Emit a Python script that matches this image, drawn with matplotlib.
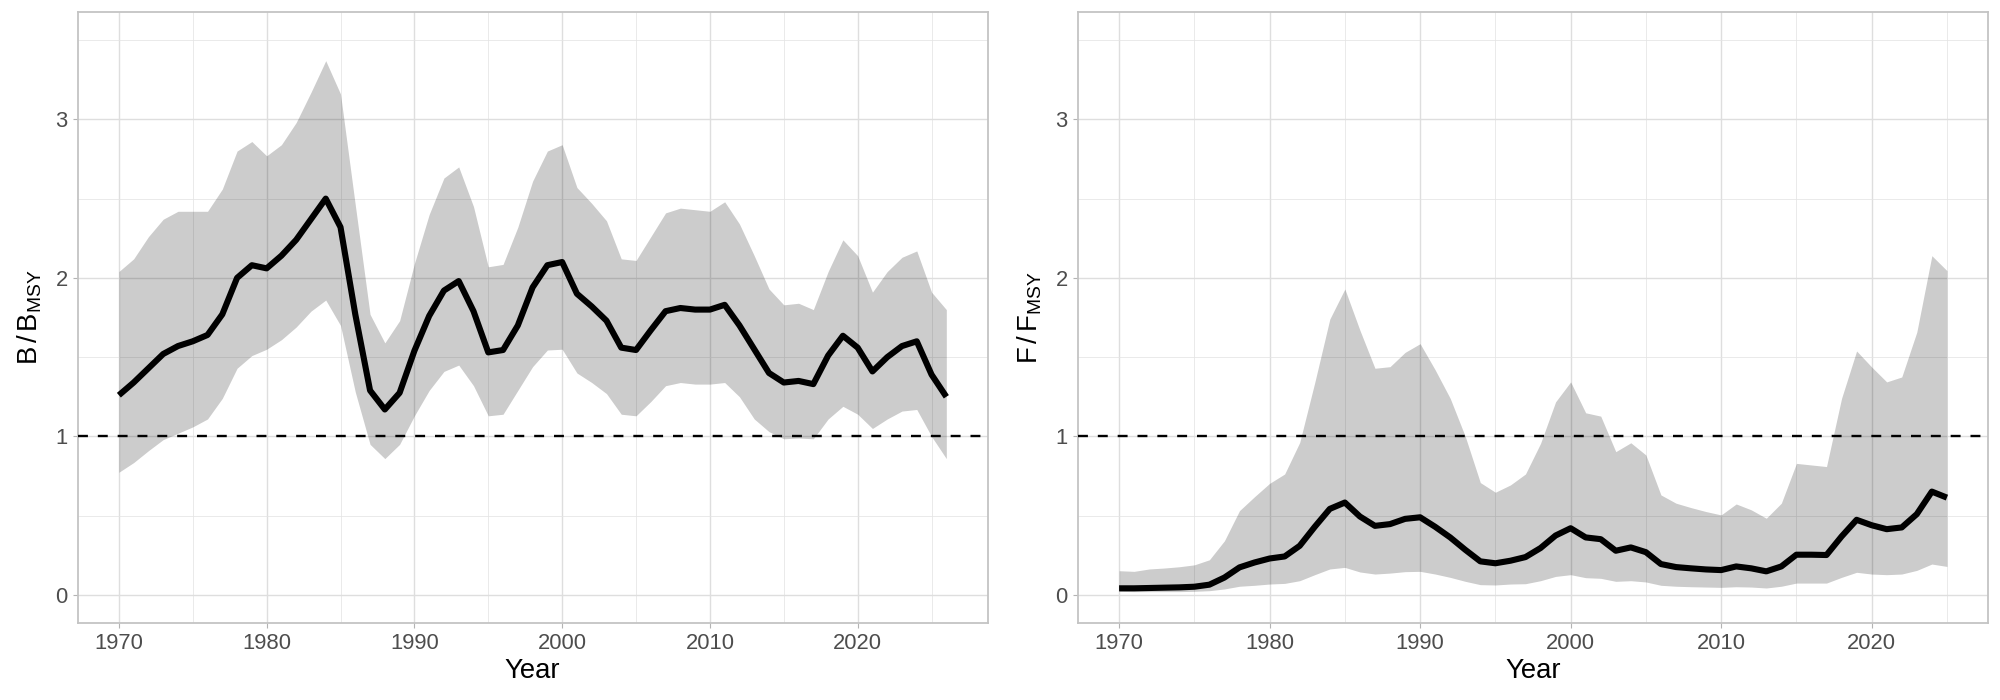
import numpy as np
import matplotlib
matplotlib.use("Agg")
import matplotlib.pyplot as plt

plt.rcParams['font.family'] = ['Liberation Sans', 'DejaVu Sans']
plt.rcParams['mathtext.fontset'] = 'custom'
plt.rcParams['mathtext.rm'] = 'Liberation Sans'
plt.rcParams['mathtext.it'] = 'Liberation Sans'

# ---- data ----
years_b = np.arange(1970, 2027)
b_med = [1.26, 1.34, 1.43, 1.52, 1.57, 1.60, 1.64, 1.77, 2.00, 2.08,
         2.06, 2.14, 2.24, 2.37, 2.50, 2.32, 1.77, 1.29, 1.17, 1.275,
         1.54, 1.76, 1.92, 1.98, 1.79, 1.53, 1.545, 1.70, 1.94, 2.08,
         2.10, 1.90, 1.82, 1.73, 1.56, 1.545, 1.67, 1.79, 1.81, 1.80,
         1.80, 1.83, 1.70, 1.55, 1.40, 1.34, 1.35, 1.33, 1.51, 1.635,
         1.56, 1.41, 1.50, 1.57, 1.60, 1.39, 1.25]
b_hi = [2.04, 2.12, 2.26, 2.37, 2.42, 2.42, 2.42, 2.56, 2.80, 2.86,
        2.77, 2.84, 2.98, 3.17, 3.37, 3.16, 2.46, 1.77, 1.59, 1.73,
        2.09, 2.40, 2.63, 2.70, 2.45, 2.07, 2.085, 2.32, 2.61, 2.80,
        2.84, 2.57, 2.47, 2.36, 2.12, 2.11, 2.26, 2.41, 2.44, 2.43,
        2.42, 2.48, 2.34, 2.14, 1.93, 1.83, 1.84, 1.80, 2.04, 2.24,
        2.14, 1.91, 2.04, 2.13, 2.17, 1.91, 1.80]
b_lo = [0.774, 0.835, 0.91, 0.98, 1.02, 1.06, 1.11, 1.24, 1.43, 1.51,
        1.55, 1.61, 1.69, 1.79, 1.86, 1.70, 1.28, 0.95, 0.86, 0.95,
        1.13, 1.29, 1.41, 1.45, 1.32, 1.13, 1.14, 1.29, 1.44, 1.545,
        1.55, 1.40, 1.34, 1.27, 1.14, 1.13, 1.22, 1.32, 1.34, 1.33,
        1.33, 1.34, 1.25, 1.11, 1.03, 0.985, 0.99, 0.985, 1.11, 1.19,
        1.14, 1.05, 1.11, 1.16, 1.17, 1.00, 0.86]

years_f = np.arange(1970, 2026)
f_med = [0.042, 0.042, 0.044, 0.046, 0.048, 0.052, 0.065, 0.11, 0.174, 0.205,
         0.23, 0.243, 0.31, 0.43, 0.543, 0.583, 0.495, 0.436, 0.447, 0.48,
         0.49, 0.43, 0.363, 0.285, 0.212, 0.20, 0.216, 0.239, 0.296, 0.375,
         0.421, 0.363, 0.352, 0.279, 0.30, 0.27, 0.195, 0.176, 0.168, 0.161,
         0.157, 0.18, 0.168, 0.149, 0.18, 0.254, 0.254, 0.252, 0.369, 0.474,
         0.44, 0.415, 0.426, 0.51, 0.652, 0.614]
f_hi = [0.153, 0.149, 0.164, 0.17, 0.178, 0.19, 0.222, 0.342, 0.532, 0.62,
        0.704, 0.763, 0.962, 1.34, 1.74, 1.93, 1.67, 1.43, 1.44, 1.53,
        1.585, 1.42, 1.24, 1.00, 0.709, 0.648, 0.694, 0.763, 0.956, 1.218,
        1.344, 1.149, 1.128, 0.904, 0.96, 0.883, 0.631, 0.579, 0.551, 0.526,
        0.505, 0.574, 0.537, 0.484, 0.579, 0.83, 0.82, 0.81, 1.24, 1.539,
        1.438, 1.344, 1.375, 1.658, 2.14, 2.046]
f_lo = [0.023, 0.021, 0.021, 0.021, 0.021, 0.023, 0.027, 0.038, 0.055, 0.061,
        0.069, 0.073, 0.09, 0.128, 0.164, 0.174, 0.145, 0.132, 0.138, 0.147,
        0.149, 0.132, 0.111, 0.086, 0.065, 0.063, 0.069, 0.071, 0.09, 0.117,
        0.128, 0.109, 0.105, 0.086, 0.09, 0.082, 0.061, 0.055, 0.052, 0.05,
        0.048, 0.052, 0.05, 0.044, 0.055, 0.075, 0.075, 0.075, 0.111, 0.143,
        0.132, 0.128, 0.132, 0.155, 0.195, 0.18]

ylabels = [r'$\mathrm{B\,/\,B_{MSY}}$', r'$\mathrm{F\,/\,F_{MSY}}$']
ref_level = 1.0

fig = plt.figure(figsize=(20, 7), dpi=100)
ax_b = fig.add_axes([0.03875, 0.1104, 0.4551, 0.872])
ax_f = fig.add_axes([0.53885, 0.1104, 0.4553, 0.872])

panels = [(ax_b, years_b, b_med, b_lo, b_hi), (ax_f, years_f, f_med, f_lo, f_hi)]
for (ax, yrs, med, lo, hi), lab in zip(panels, ylabels):
    ax.fill_between(yrs, lo, hi, color='black', alpha=0.2, linewidth=0, zorder=2)
    ax.axhline(ref_level, color='black', lw=1.7, dashes=(4.2, 4.2), zorder=3)
    ax.plot(yrs, med, color='black', lw=4.4, solid_joinstyle='round',
            solid_capstyle='butt', zorder=4)

    span = yrs[-1] - yrs[0]
    ax.set_xlim(yrs[0] - 0.05 * span, yrs[-1] + 0.05 * span)
    ax.set_ylim(-0.175, 3.675)
    ax.set_xticks(np.arange(1970, 2021, 10))
    ax.set_xticks(np.arange(1975, 2026, 10), minor=True)
    ax.set_yticks([0, 1, 2, 3])
    ax.set_yticks([0.5, 1.5, 2.5, 3.5], minor=True)
    ax.grid(which='major', color='#DEDEDE', lw=1.0, zorder=0)
    ax.grid(which='minor', color='#E4E4E4', lw=0.55, zorder=0)
    ax.set_axisbelow(True)
    for s in ax.spines.values():
        s.set_color('#C4C4C4')
        s.set_linewidth(1.3)
    ax.tick_params(which='major', length=3.6, width=0.8, color='#B3B3B3',
                   labelsize=15.8, labelcolor='#4D4D4D', pad=3.5)
    ax.tick_params(which='minor', length=0)
    ax.set_xlabel('Year', fontsize=19.8, labelpad=3)
    ax.set_ylabel(lab, fontsize=19.8, labelpad=8)

fig.savefig('out.png', dpi=100)
